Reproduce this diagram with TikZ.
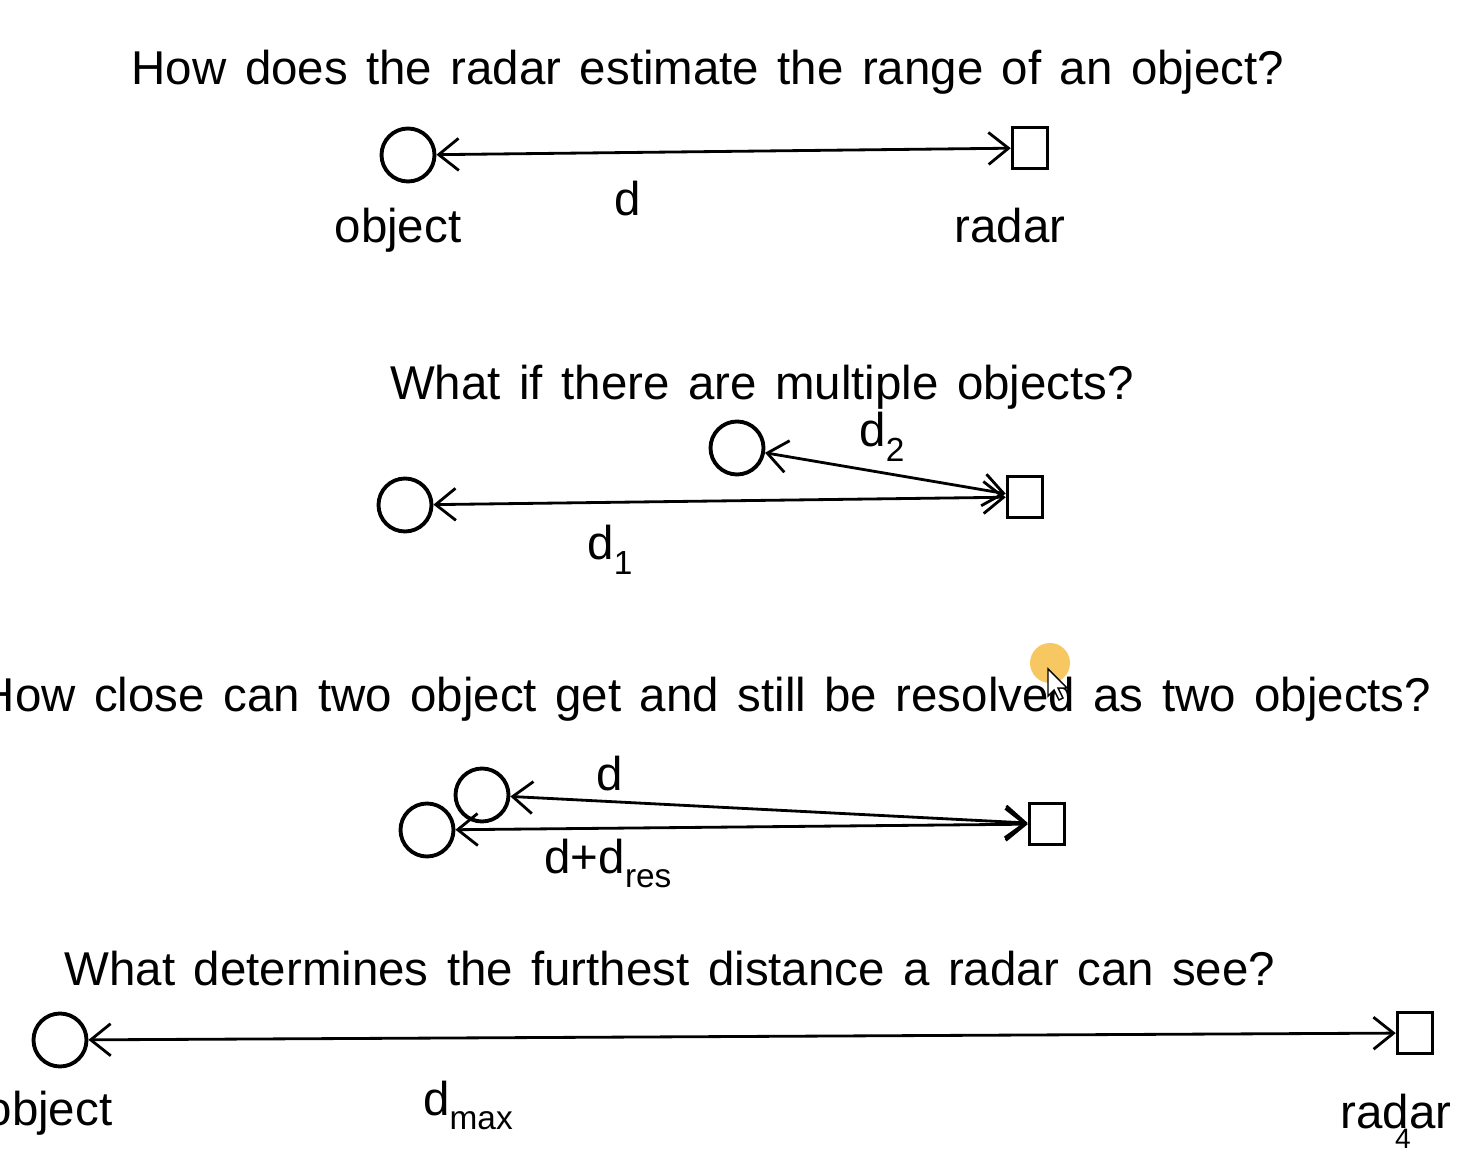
\documentclass[tikz,border=0pt]{standalone}
\usepackage{fontspec}
\setmainfont{Liberation Sans}
\newfontfamily\qfont[WordSpace=1.4]{Liberation Sans}
\usetikzlibrary{arrows.meta}
\definecolor{hilite}{RGB}{246,190,70}
\newcommand{\subs}[1]{\raisebox{-4.2pt}{\fontsize{9.5}{9.5}\selectfont #1}}

\begin{document}
\begin{tikzpicture}[
        obj/.style={circle, draw, line width=1.1pt, minimum size=0.53cm, inner sep=0pt},
        rad/.style={rectangle, draw, line width=1pt, minimum width=0.35cm, minimum height=0.41cm, inner sep=0pt},
        rng/.style={{Straight Barb[length=2mm,width=3.2mm]}-{Straight Barb[length=2mm,width=3.2mm]}, line width=0.8pt},
        txt/.style={anchor=base, inner sep=0pt, font=\fontsize{13.5}{16}\selectfont},
        ques/.style={txt, font=\qfont\fontsize{13.5}{16}\selectfont},
    ]
        \useasboundingbox (0,0) rectangle (14.59,11.52);
        \clip (0,0) rectangle (14.59,11.52);
        \fill[white] (0,0) rectangle (14.59,11.52);
        % range of one object
        \node[ques] (q1) at (7.08,10.67) {How does the radar estimate the range of an object?};
        \node[obj] (o1) at (4.08,9.97) {};
        \node[rad] (r1) at (10.30,10.04) {};
        \draw[rng] (o1) -- (r1);
        \node[txt] (lo1) at (3.98,9.09) {object};
        \node[txt] (ld1) at (6.28,9.36) {d};
        \node[txt] (lr1) at (10.10,9.09) {radar};
        % multiple objects
        \node[ques] (q2) at (7.62,7.52) {What if there are multiple objects?};
        \node[obj] (o2a) at (4.05,6.47) {};
        \node[obj] (o2b) at (7.37,7.04) {};
        \node[rad] (r2) at (10.25,6.55) {};
        \draw[rng] (o2a) -- (r2);
        \draw[rng] (o2b) -- (r2);
        \node[txt] (ld2a) at (6.10,5.92) {d\subs{1}};
        \node[txt] (ld2b) at (8.82,7.05) {d\subs{2}};
        % resolution
        \node[ques, anchor=base east] (q3) at (14.32,4.40) {How close can two object get and still be resolved as two objects?};
        \node[obj] (o3a) at (4.27,3.22) {};
        \node[obj] (o3b) at (4.82,3.57) {};
        \node[rad] (r3) at (10.47,3.28) {};
        \draw[rng] (o3b) -- (r3);
        \draw[rng] (o3a) -- (r3);
        \node[txt] (ld3a) at (6.10,3.62) {d};
        \node[txt] (ld3b) at (6.08,2.79) {d+d\subs{res}};
        % maximum range
        \node[ques] (q4) at (6.70,1.67) {What determines the furthest distance a radar can see?};
        \node[obj] (o4) at (0.60,1.12) {};
        \node[rad] (r4) at (14.15,1.19) {};
        \draw[rng] (o4) -- (r4);
        \node[txt, anchor=base east] (lo4) at (1.13,0.27) {object};
        \node[txt] (ld4) at (4.68,0.37) {d\subs{max}};
        \node[txt] (lr4) at (13.96,0.24) {radar};
        \node[anchor=base, inner sep=0pt, font=\fontsize{8}{8}\selectfont] (pg) at (14.03,0.04) {4};
        % mouse pointer
        \fill[hilite, opacity=0.85] (10.50,4.89) circle (0.2);
        \filldraw[fill=white, draw=black, line width=0.4pt] (10.48,4.83) -- ++(0,-0.27) -- ++(0.06,0.06)
            -- ++(0.05,-0.1) -- ++(0.04,0.02) -- ++(-0.05,0.1) -- ++(0.09,0) -- cycle;
\end{tikzpicture}
\end{document}
